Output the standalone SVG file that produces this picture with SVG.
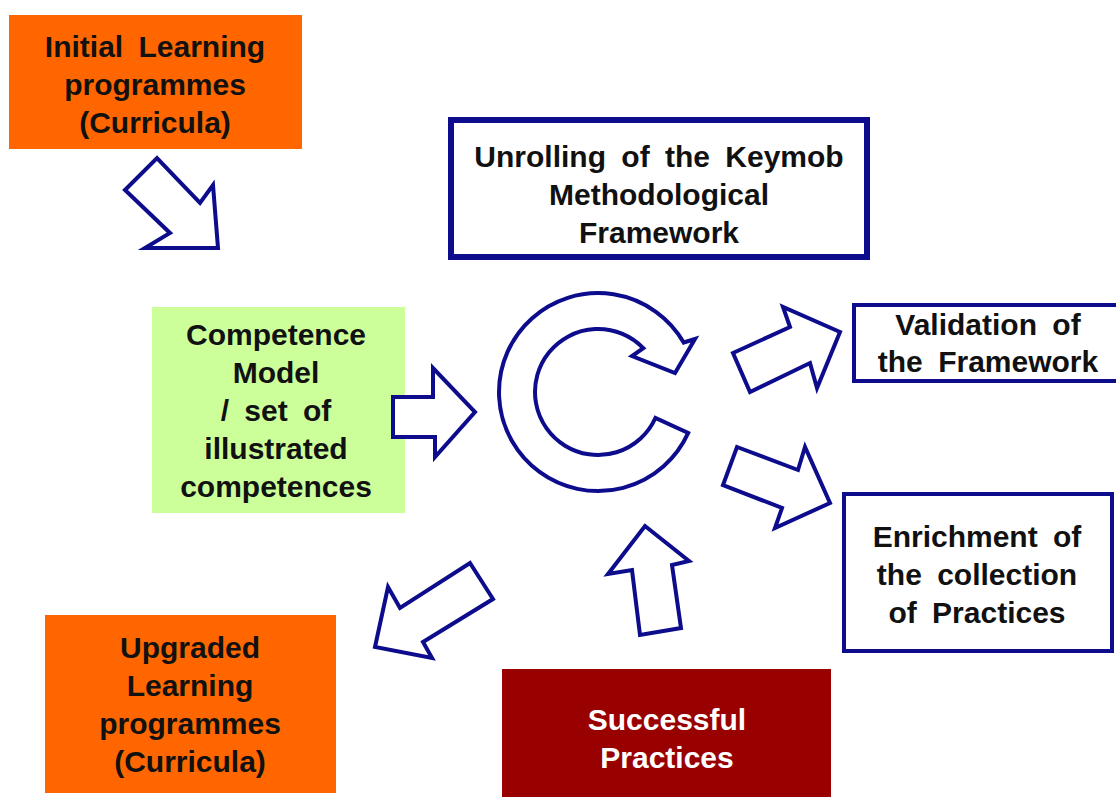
<svg xmlns="http://www.w3.org/2000/svg" width="1116" height="797" viewBox="0 0 1116 797">
<style>
.t{font-family:"Liberation Sans",Arial,sans-serif;font-weight:bold;font-size:30px;fill:#111;text-anchor:middle;word-spacing:7px}
.w{fill:#fff}
.arr{fill:#fff;stroke:#0c0c8c;stroke-width:4;stroke-linejoin:miter}
.frame{fill:#fff;stroke:#0c0c8c}
</style>
<rect width="1116" height="797" fill="#fff"/>
<g id="initial">
<rect x="9" y="15" width="293" height="134" fill="#ff6600"/>
<text class="t" x="155" y="57">Initial Learning</text>
<text class="t" x="155" y="95">programmes</text>
<text class="t" x="155" y="133">(Curricula)</text>
</g>
<g id="unrolling">
<rect class="frame" x="451" y="120" width="416" height="137" stroke-width="6"/>
<text class="t" x="659" y="167">Unrolling of the Keymob</text>
<text class="t" x="659" y="205">Methodological</text>
<text class="t" x="659" y="243">Framework</text>
</g>
<g id="competence">
<rect x="152" y="307" width="253" height="206" fill="#ccff99"/>
<text class="t" x="276" y="345">Competence</text>
<text class="t" x="276" y="383">Model</text>
<text class="t" x="276" y="421">/ set of</text>
<text class="t" x="276" y="459">illustrated</text>
<text class="t" x="276" y="497">competences</text>
</g>
<g id="cycle">
<path class="arr" d="M688.2,432.9 A99,99 0 1 1 683.7,342.5 L695,339 L675,373 L632,356 L643.3,348.2 A63,63 0 1 0 655.4,418 Z"/>
</g>
<g id="validation">
<rect class="frame" x="854" y="305" width="264" height="76" stroke-width="4"/>
<text class="t" x="988" y="335">Validation of</text>
<text class="t" x="988" y="372">the Framework</text>
</g>
<g id="enrichment">
<rect class="frame" x="844" y="494" width="268" height="157" stroke-width="4"/>
<text class="t" x="977" y="547">Enrichment of</text>
<text class="t" x="977" y="585">the collection</text>
<text class="t" x="977" y="623">of Practices</text>
</g>
<g id="upgraded">
<rect x="45" y="615" width="291" height="178" fill="#ff6600"/>
<text class="t" x="190" y="658">Upgraded</text>
<text class="t" x="190" y="696">Learning</text>
<text class="t" x="190" y="734">programmes</text>
<text class="t" x="190" y="772">(Curricula)</text>
</g>
<g id="successful">
<rect x="502" y="669" width="329" height="128" fill="#990000"/>
<text class="t w" x="667" y="730">Successful</text>
<text class="t w" x="667" y="768">Practices</text>
</g>
<g id="connectors">
<polygon class="arr" points="125,190 157,158 200,203 213,185 218,248 145,248 170,233"/>
<polygon class="arr" points="393,397 433,397 433,368 475,412 435,457 435,437 393,437"/>
<polygon class="arr" points="733,353 790,327 783,307 840,332 817,388 810,363 750,392"/>
<polygon class="arr" points="737,447 798,470 805,447 830,503 775,528 782,508 723,485"/>
<polygon class="arr" points="470,563 493,599 423,642 432,658 375,647 388,587 400,608"/>
<polygon class="arr" points="645,526 689,561 672,565 681,628 640,635 632,570 608,574"/>
</g>
</svg>
